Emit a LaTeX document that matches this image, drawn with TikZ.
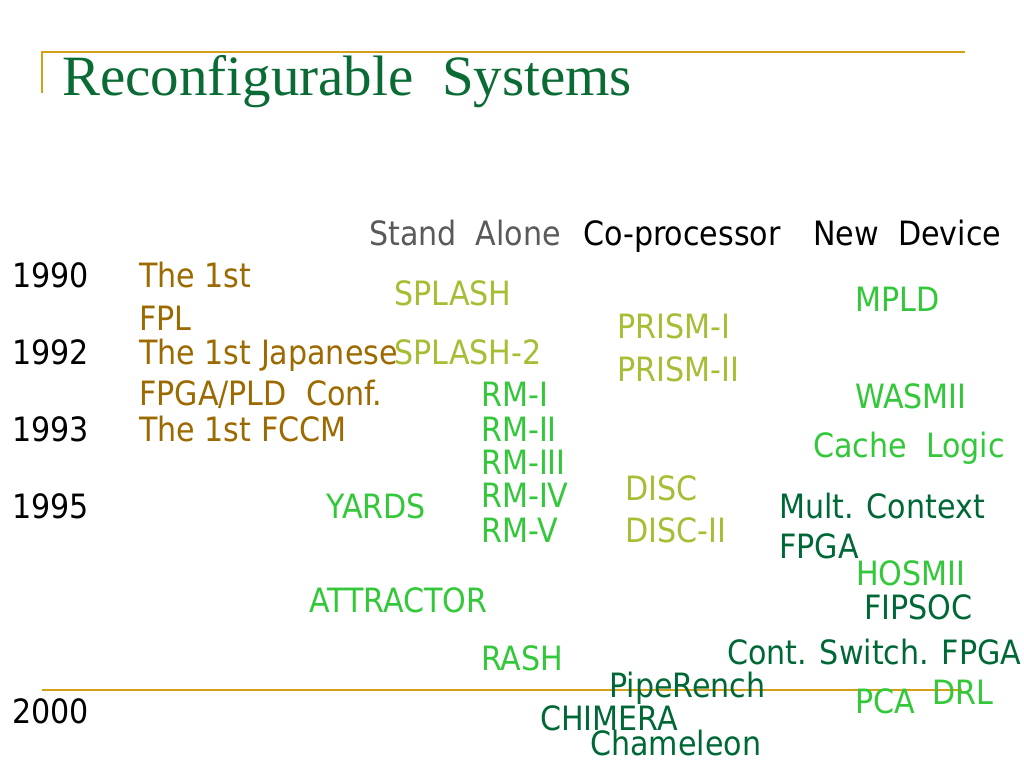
\documentclass[tikz,border=0pt]{standalone}
\usepackage{fontspec}
\setmainfont{Liberation Serif}
\newfontfamily\tahoma{DejaVu Sans Condensed}
\usetikzlibrary{positioning}

\definecolor{titlegreen}{HTML}{0B6B35}
\definecolor{gold}{HTML}{D4A017}
\definecolor{brown}{HTML}{9C6A00}
\definecolor{olive}{HTML}{A8BC34}
\definecolor{lime}{HTML}{33C83A}
\definecolor{forest}{HTML}{006837}
\definecolor{headgray}{HTML}{5A5A5A}

\tikzstyle{item} = [anchor=base west, inner sep=0pt, font=\tahoma\fontsize{33.5}{40}\selectfont]
\tikzstyle{year_text} = [item, text=black]
\tikzstyle{conf_text} = [item, text=brown]
\tikzstyle{olive_text} = [item, text=olive]
\tikzstyle{lime_text} = [item, text=lime]
\tikzstyle{forest_text} = [item, text=forest]
\tikzstyle{rule} = [draw=gold, line width=2.5pt]

\begin{document}
\begin{tikzpicture}[x=1pt, y=-1pt]

    \useasboundingbox (0,0) rectangle (1024,768);

    % Title and rules
    \coordinate (corner_low) at (42,93);
    \coordinate (corner) at (42,52);
    \coordinate (top_end) at (965,52);
    \coordinate (line_start) at (42,690);
    \coordinate (line_end) at (962,690);
    \draw [rule] (corner_low) -- (corner) -- (top_end);
    \draw [rule] (line_start) -- (line_end);
    \node (title) [anchor=base west, inner sep=0pt, text=titlegreen, font=\fontsize{57}{62}\selectfont] at (62,95) {Reconfigurable\ \ Systems};

    % Column heads
    \node (standalone) [item, text=headgray] at (369,245) {Stand\ \ Alone};
    \node (coproc) [item] at (583,245) {Co-processor};
    \node (newdevice) [item] at (813,245) {New\ \ Device};

    % Years
    \node (y1990) [year_text] at (12,287) {1990};
    \node (y1992) [year_text] at (12,364) {1992};
    \node (y1993) [year_text] at (12,441) {1993};
    \node (y1995) [year_text] at (12,518) {1995};
    \node (y2000) [year_text] at (12,723) {2000};

    % Conferences
    \node (fpl1) [conf_text] at (139,287) {The 1st};
    \node (fpl2) [conf_text] at (139,330) {FPL};
    \node (jap1) [conf_text] at (139,364) {The 1st Japanese};
    \node (jap2) [conf_text] at (139,405) {FPGA/PLD\ \ Conf.};
    \node (fccm) [conf_text] at (139,441) {The 1st FCCM};

    % Stand alone
    \node (splash) [olive_text] at (394,305) {SPLASH};
    \node (splash2) [olive_text] at (394,364) {SPLASH-2};
    \node (rm1) [lime_text] at (481,406) {RM-I};
    \node (rm2) [lime_text] at (481,441) {RM-II};
    \node (rm3) [lime_text] at (481,474) {RM-III};
    \node (rm4) [lime_text] at (481,507) {RM-IV};
    \node (rm5) [lime_text] at (481,542) {RM-V};
    \node (yards) [lime_text] at (326,518) {YARDS};
    \node (attractor) [lime_text] at (309,612) {ATTRACTOR};
    \node (rash) [lime_text] at (481,670) {RASH};

    % Co-processor
    \node (prism1) [olive_text] at (617,338) {PRISM-I};
    \node (prism2) [olive_text] at (617,381) {PRISM-II};
    \node (disc) [olive_text] at (625,500) {DISC};
    \node (disc2) [olive_text] at (625,542) {DISC-II};
    \node (piperench) [forest_text] at (609,697) {PipeRench};
    \node (chimera) [forest_text] at (540,730) {CHIMERA};
    \node (chameleon) [forest_text] at (590,755) {Chameleon};

    % New device
    \node (mpld) [lime_text] at (855,311) {MPLD};
    \node (wasmii) [lime_text] at (855,408) {WASMII};
    \node (cache) [lime_text] at (813,457) {Cache\ \ Logic};
    \node (mult1) [forest_text] at (779,518) {Mult. Context};
    \node (mult2) [forest_text] at (779,558) {FPGA};
    \node (hosmii) [lime_text] at (856,585) {HOSMII};
    \node (fipsoc) [forest_text] at (864,619) {FIPSOC};
    \node (contsw) [forest_text] at (727,664) {Cont. Switch. FPGA};
    \node (pca) [lime_text] at (855,713) {PCA};
    \node (drl) [lime_text] at (932,704) {DRL};

\end{tikzpicture}
\end{document}
